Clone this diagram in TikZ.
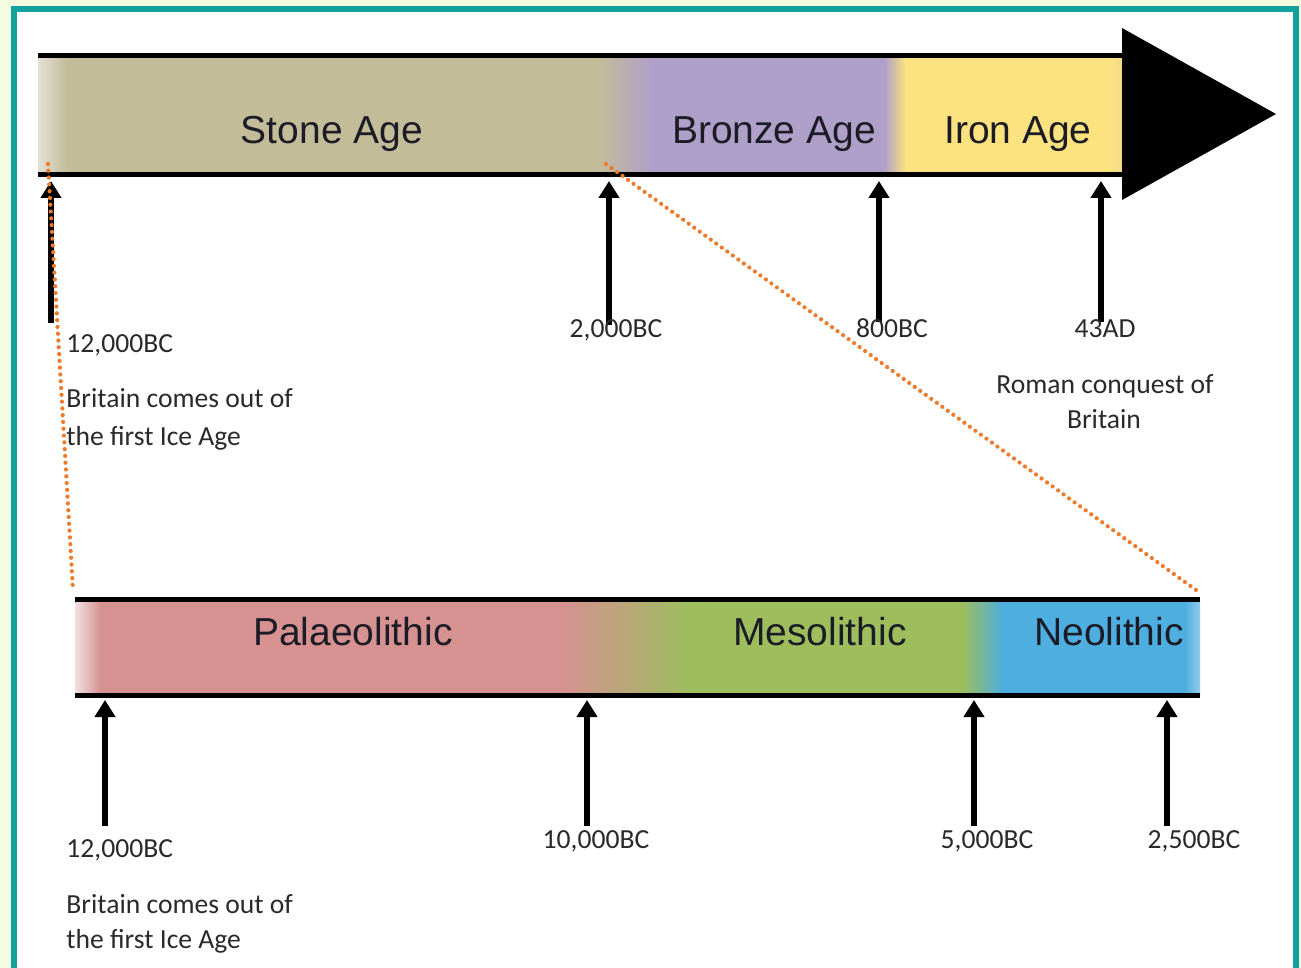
\documentclass[tikz,border=0pt]{standalone}
\usepackage{fontspec}
\setmainfont{Carlito}
\newfontfamily\arialf{Liberation Sans}
\usetikzlibrary{arrows.meta}
\definecolor{bgout}{HTML}{F4FCE0}
\definecolor{teal1}{HTML}{13A19B}
\definecolor{khaki}{HTML}{C3BC99}
\definecolor{khakil}{HTML}{E2E0D4}
\definecolor{lav}{HTML}{AFA0C9}
\definecolor{yel}{HTML}{FCE37F}
\definecolor{yeld}{HTML}{F1D98C}
\definecolor{rose}{HTML}{D69191}
\definecolor{rosel}{HTML}{F2E0E0}
\definecolor{grn}{HTML}{9EBE5E}
\definecolor{blu}{HTML}{4DAEDF}
\definecolor{blul}{HTML}{92CBEA}
\definecolor{dotor}{HTML}{EE7B2A}
\definecolor{bigtxt}{HTML}{1C1C26}
\definecolor{smtxt}{HTML}{2A2A2A}
\tikzset{
  barline/.style={line width=2.6pt, black},
  uparrow/.style={line width=2.6pt, black, -{Triangle[width=10pt,length=8.5pt]}},
  zoomline/.style={dotor, line width=2.1pt, line cap=round, dash pattern=on 0pt off 3.4pt},
  biglbl/.style={font=\arialf\fontsize{19.5}{22}\selectfont, text=bigtxt, anchor=base, inner sep=0pt},
  smlbl/.style={font=\fontsize{13.8}{16}\selectfont, text=smtxt, inner sep=0pt},
}
\begin{document}
\begin{tikzpicture}[x=0.5pt,y=-0.5pt]
\useasboundingbox (0,0) rectangle (1301,968);
% frame
\fill[bgout] (0,0) rectangle (1301,968);
\fill[teal1] (11,6) rectangle (1299,968);
\fill[white] (17,12) rectangle (1293,968);

% ---------- top bar ----------
\shade[left color=khakil, right color=khaki] (38,57) rectangle (68,173);
\fill[khaki] (67,57) rectangle (601,173);
\shade[left color=khaki, right color=lav] (600,57) rectangle (651,173);
\fill[lav] (650,57) rectangle (885,173);
\shade[left color=lav, right color=yel] (884,57) rectangle (906,173);
\fill[yel] (905,57) rectangle (1111,173);
\shade[left color=yel, right color=yeld] (1110,57) rectangle (1122,173);
\coordinate (t1) at (38,55.5);
\coordinate (t2) at (1123,55.5);
\coordinate (b1) at (38,174.5);
\coordinate (b2) at (1123,174.5);
\draw[barline] (t1) -- (t2);
\draw[barline] (b1) -- (b2);
\coordinate (h1) at (1122,28);
\coordinate (h2) at (1276,114);
\coordinate (h3) at (1122,200);
\fill[black] (h1) -- (h2) -- (h3) -- cycle;

\node[biglbl] (stone) at (332,144) {Stone Age};
\node[biglbl] (bronze) at (774,144) {Bronze Age};
\node[biglbl] (iron) at (1018,144) {Iron Age};

% ---------- bottom bar ----------
\shade[left color=rosel, right color=rose] (75,601) rectangle (101,695);
\fill[rose] (100,601) rectangle (561,695);
\shade[left color=rose, right color=grn] (560,601) rectangle (691,695);
\fill[grn] (690,601) rectangle (963,695);
\shade[left color=grn, right color=blu] (962,601) rectangle (1003,695);
\fill[blu] (1002,601) rectangle (1186,695);
\shade[left color=blu, right color=blul] (1185,601) rectangle (1200,695);
\coordinate (u1) at (75,599.5);
\coordinate (u2) at (1200,599.5);
\coordinate (l1) at (75,695.5);
\coordinate (l2) at (1200,695.5);
\draw[barline] (u1) -- (u2);
\draw[barline] (l1) -- (l2);

\node[biglbl] (palaeo) at (353,645) {Palaeolithic};
\node[biglbl] (meso) at (820,645) {Mesolithic};
\node[biglbl] (neo) at (1109,645) {Neolithic};

% ---------- top arrows ----------
\coordinate (a1s) at (51,323); \coordinate (a1e) at (51,181);
\coordinate (a2s) at (609,325); \coordinate (a2e) at (609,181);
\coordinate (a3s) at (879,322); \coordinate (a3e) at (879,181);
\coordinate (a4s) at (1101,322); \coordinate (a4e) at (1101,181);
\draw[uparrow] (a1s) -- (a1e);
\draw[uparrow] (a2s) -- (a2e);
\draw[uparrow] (a3s) -- (a3e);
\draw[uparrow] (a4s) -- (a4e);

% ---------- bottom arrows ----------
\coordinate (c1s) at (105,826); \coordinate (c1e) at (105,700);
\coordinate (c2s) at (587,826); \coordinate (c2e) at (587,700);
\coordinate (c3s) at (974,826); \coordinate (c3e) at (974,700);
\coordinate (c4s) at (1167,826); \coordinate (c4e) at (1167,700);
\draw[uparrow] (c1s) -- (c1e);
\draw[uparrow] (c2s) -- (c2e);
\draw[uparrow] (c3s) -- (c3e);
\draw[uparrow] (c4s) -- (c4e);

% ---------- zoom dotted lines ----------
\coordinate (z1s) at (48,164); \coordinate (z1e) at (73,590);
\coordinate (z2s) at (606,164); \coordinate (z2e) at (1196,590);
\draw[zoomline] (z1s) -- (z1e);
\draw[zoomline] (z2s) -- (z2e);

% ---------- top labels ----------
\node[smlbl, anchor=base west] (d1) at (66,352) {12,000BC};
\node[smlbl, anchor=base west] (n1a) at (66,407) {Britain comes out of};
\node[smlbl, anchor=base west] (n1b) at (66,445) {the first Ice Age};
\node[smlbl, anchor=base] (d2) at (616,337) {2,000BC};
\node[smlbl, anchor=base] (d3) at (892,337) {800BC};
\node[smlbl, anchor=base] (d4) at (1105,337) {43AD};
\node[smlbl, anchor=base] (n4a) at (1105,393) {Roman conquest of};
\node[smlbl, anchor=base] (n4b) at (1104,428) {Britain};

% ---------- bottom labels ----------
\node[smlbl, anchor=base west] (e1) at (66,857) {12,000BC};
\node[smlbl, anchor=base west] (m1a) at (66,913) {Britain comes out of};
\node[smlbl, anchor=base west] (m1b) at (66,948) {the first Ice Age};
\node[smlbl, anchor=base] (e2) at (596,848) {10,000BC};
\node[smlbl, anchor=base] (e3) at (987,848) {5,000BC};
\node[smlbl, anchor=base] (e4) at (1194,848) {2,500BC};
\end{tikzpicture}
\end{document}
